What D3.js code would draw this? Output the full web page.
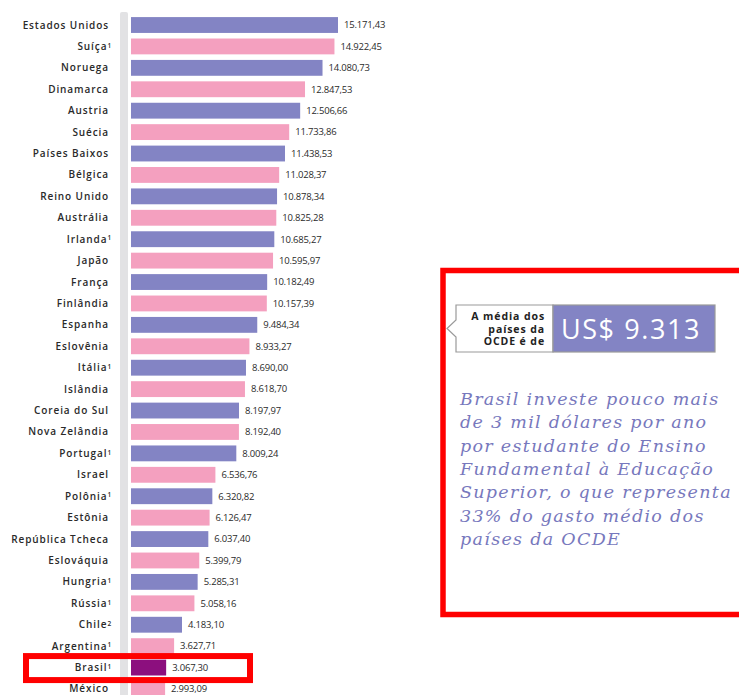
<!DOCTYPE html>
<html>
<head>
<meta charset="utf-8">
<script src="https://cdn.jsdelivr.net/npm/d3@7"></script>
<style>
  body { margin: 0; background: #fff; }
  svg { display: block; }
  .label { font-family: "Open Sans", sans-serif; font-size: 10px; font-weight: 600; letter-spacing: 0.9px; fill: #2a2a2a; }
  .value { font-family: "Open Sans", sans-serif; font-size: 9.5px; letter-spacing: -0.2px; fill: #2a2a2a; }
  .note { font-family: "DejaVu Serif", serif; font-style: italic; font-size: 17.5px; letter-spacing: 1.3px; fill: #7778bd; }
</style>
</head>
<body>
<div id="chart"></div>
<script>
var svgWidth = 739;
var svgHeight = 695;

// data (US$ per student)
var countries = ["Estados Unidos", "Suíça", "Noruega", "Dinamarca", "Austria", "Suécia",
  "Países Baixos", "Bélgica", "Reino Unido", "Austrália", "Irlanda", "Japão", "França",
  "Finlândia", "Espanha", "Eslovênia", "Itália", "Islândia", "Coreia do Sul", "Nova Zelândia",
  "Portugal", "Israel", "Polônia", "Estônia", "República Tcheca", "Eslováquia", "Hungria",
  "Rússia", "Chile", "Argentina", "Brasil", "México"];
var notes = ["", "1", "", "", "", "", "", "", "", "", "1", "", "", "", "", "", "1", "", "", "",
  "1", "", "1", "", "", "", "1", "1", "2", "1", "1", ""];
var spending = [15171.43, 14922.45, 14080.73, 12847.53, 12506.66, 11733.86, 11438.53, 11028.37,
  10878.34, 10825.28, 10685.27, 10595.97, 10182.49, 10157.39, 9484.34, 8933.27, 8690.00,
  8618.70, 8197.97, 8192.40, 8009.24, 6536.76, 6320.82, 6126.47, 6037.40, 5399.79, 5285.31,
  5058.16, 4183.10, 3627.71, 3067.30, 2993.09];

var oecdAverage = 9313;
var calloutLines = ["A média dos", "países da", "OCDE é de"];
var noteLines = ["Brasil investe pouco mais", "de 3 mil dólares por ano", "por estudante do Ensino",
  "Fundamental à Educação", "Superior, o que representa", "33% do gasto médio dos",
  "países da OCDE"];

var data = countries.map(function(c, i) {
  return { country: c, note: notes[i], value: spending[i] };
});

var blue = "#8384c4";
var pink = "#f4a0bf";
var highlight = "#8c0f7e";

var svg = d3.select("#chart")
  .append("svg")
  .attr("width", svgWidth)
  .attr("height", svgHeight);

var ptBR = d3.formatLocale({ decimal: ",", thousands: ".", grouping: [3], currency: ["US$ ", ""] });
var fmt = ptBR.format(",.2f");

var xScale = d3.scaleLinear()
  .domain([0, d3.max(spending)])
  .range([122.6, 338]);

var yScale = d3.scaleBand()
  .domain(countries)
  .range([14.3, 699.7])
  .paddingInner(0.26)
  .paddingOuter(0.13);

// bars
svg.selectAll(".bar")
  .data(data)
  .enter()
  .append("rect")
  .attr("class", "bar")
  .attr("x", xScale(0))
  .attr("y", d => yScale(d.country))
  .attr("width", d => xScale(d.value) - xScale(0))
  .attr("height", yScale.bandwidth())
  .attr("fill", (d, i) => d.country === "Brasil" ? highlight : (i % 2 === 0 ? blue : pink));

// gray spine over the bar base
svg.append("rect")
  .attr("x", 128)
  .attr("y", 12)
  .attr("width", 3)
  .attr("height", svgHeight)
  .attr("fill", "#fff");
svg.append("rect")
  .attr("x", 120)
  .attr("y", 12)
  .attr("width", 8)
  .attr("height", svgHeight)
  .attr("rx", 2)
  .attr("fill", "#e2e2e4");

// country labels
var labels = svg.selectAll(".label")
  .data(data)
  .enter()
  .append("text")
  .attr("class", "label")
  .attr("x", d => d.note ? 112 : 109)
  .attr("y", d => yScale(d.country) + yScale.bandwidth() / 2)
  .attr("dy", "0.35em")
  .attr("text-anchor", "end");
labels.append("tspan").text(d => d.country);
labels.append("tspan")
  .attr("dy", "-0.35em")
  .attr("font-size", "6.5px")
  .text(d => d.note);

// value labels
svg.selectAll(".value")
  .data(data)
  .enter()
  .append("text")
  .attr("class", "value")
  .attr("x", d => xScale(d.value) + 6)
  .attr("y", d => yScale(d.country) + yScale.bandwidth() / 2)
  .attr("dy", "0.35em")
  .text(d => fmt(d.value));

// red frame around Brasil
var yBrasil = yScale("Brasil") + yScale.bandwidth() / 2;
svg.append("rect")
  .attr("x", 26)
  .attr("y", yBrasil - 11.5)
  .attr("width", 224)
  .attr("height", 24)
  .attr("fill", "none")
  .attr("stroke", "#ff0000")
  .attr("stroke-width", 6);

// right panel
svg.append("rect")
  .attr("x", 443)
  .attr("y", 270.5)
  .attr("width", 320)
  .attr("height", 344)
  .attr("fill", "none")
  .attr("stroke", "#ff0000")
  .attr("stroke-width", 5.5);

// callout with OECD average
var callout = svg.append("g");
callout.append("path")
  .attr("d", "M456,305 H553 V352 H456 V337 L447,328.5 L456,320 Z")
  .attr("fill", "#fff")
  .attr("stroke", "#9a9a9a")
  .attr("stroke-width", 1.2);
callout.append("rect")
  .attr("x", 553)
  .attr("y", 305)
  .attr("width", 162)
  .attr("height", 47)
  .attr("fill", blue)
  .attr("stroke", "#9a9a9a")
  .attr("stroke-width", 1.2);
callout.selectAll(".callout-line")
  .data(calloutLines)
  .enter()
  .append("text")
  .attr("class", "callout-line")
  .attr("x", 545)
  .attr("y", (d, i) => 320 + i * 12.5)
  .attr("text-anchor", "end")
  .style("font-family", "Open Sans, sans-serif")
  .style("font-size", "10.5px")
  .style("font-weight", 700)
  .style("letter-spacing", "0.9px")
  .style("fill", "#222")
  .text(d => d);
callout.append("text")
  .attr("x", 631)
  .attr("y", 339)
  .attr("text-anchor", "middle")
  .style("font-family", "Open Sans, sans-serif")
  .style("font-size", "27px")
  .style("letter-spacing", "1.6px")
  .style("fill", "#fff")
  .text(ptBR.format("$,d")(oecdAverage));

// italic note
svg.selectAll(".note")
  .data(noteLines)
  .enter()
  .append("text")
  .attr("class", "note")
  .attr("x", 460)
  .attr("y", (d, i) => 405 + i * 23.3)
  .text(d => d);
</script>
</body>
</html>
